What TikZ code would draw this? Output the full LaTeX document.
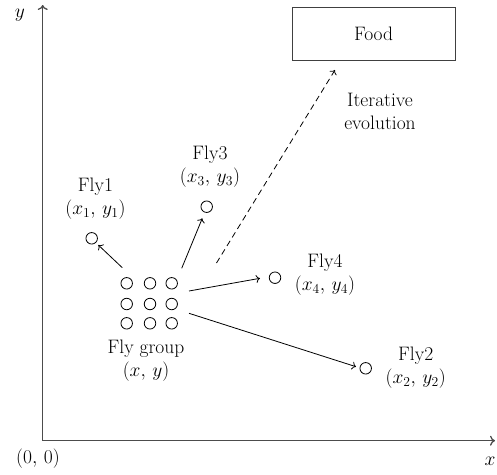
\documentclass[tikz,border=0pt]{standalone}
\usepackage{fix-cm}
\usepackage{amsmath}
\usetikzlibrary{arrows.meta}
\begin{document}
\begin{tikzpicture}[x=1pt,y=-1pt,
  every node/.style={font=\fontsize{19.5}{23}\selectfont, inner sep=0pt},
  axis/.style={draw=black!70, line width=1.3pt, -{To[length=5pt,width=10pt]}},
  arr/.style={draw=black, line width=0.8pt, -{To[length=4pt,width=8pt]}},
  fly/.style={circle, draw=black, line width=0.8pt, minimum size=11.5pt, inner sep=0pt},
  lbl/.style={align=center}]
\useasboundingbox (0,0) rectangle (497,474);
% axes
\coordinate (O) at (42.7,440.7);
\coordinate (ytop) at (42.7,5);
\coordinate (xend) at (495,440.7);
\draw[axis] (O) -- (ytop);
\draw[axis] (O) -- (xend);
\node[anchor=base] (ylab) at (20,17) {$y$};
\node (xlab) at (490,461) {$x$};
\node (olab) at (38,459) {$(0,\,0)$};
% food
\node[draw=black!75, line width=1pt, minimum width=163pt, minimum height=53pt] (food) at (373.6,34) {Food};
\node[lbl] (iter) at (380,111.5) {Iterative\\evolution};
% fly group
\foreach \i/\x in {1/126.7,2/150,3/171.7}
  \foreach \j/\y in {1/283.3,2/304,3/323.3}
    \node[fly] (g\i\j) at (\x,\y) {};
\node[lbl] (grp) at (146,360.5) {Fly group\\$(x,\,y)$};
% flies
\node[fly] (f1) at (91.7,238.3) {};
\node[fly] (f3) at (206.7,206.7) {};
\node[fly] (f4) at (275,277.7) {};
\node[fly] (f2) at (365.7,368.3) {};
\node[lbl] (l1) at (95.5,198.5) {Fly1\\$(x_1,\,y_1)$};
\node[lbl] (l3) at (210,166.5) {Fly3\\$(x_3,\,y_3)$};
\node[lbl] (l4) at (325,275) {Fly4\\$(x_4,\,y_4)$};
\node[lbl] (l2) at (415.7,368) {Fly2\\$(x_2,\,y_2)$};
% arrows
\coordinate (a1s) at (122.3,267.7);
\coordinate (a1e) at (98.3,245);
\coordinate (a3s) at (181.7,268.3);
\coordinate (a3e) at (202.3,218.3);
\coordinate (a4s) at (189,291);
\coordinate (a4e) at (260,278.3);
\coordinate (a2s) at (189,313.3);
\coordinate (a2e) at (356,366.7);
\coordinate (ds) at (216.5,263);
\coordinate (de) at (335,70);
\draw[arr] (a1s) -- (a1e);
\draw[arr] (a3s) -- (a3e);
\draw[arr] (a4s) -- (a4e);
\draw[arr] (a2s) -- (a2e);
\draw[arr, dash pattern=on 6pt off 4pt] (ds) -- (de);
\end{tikzpicture}
\end{document}
